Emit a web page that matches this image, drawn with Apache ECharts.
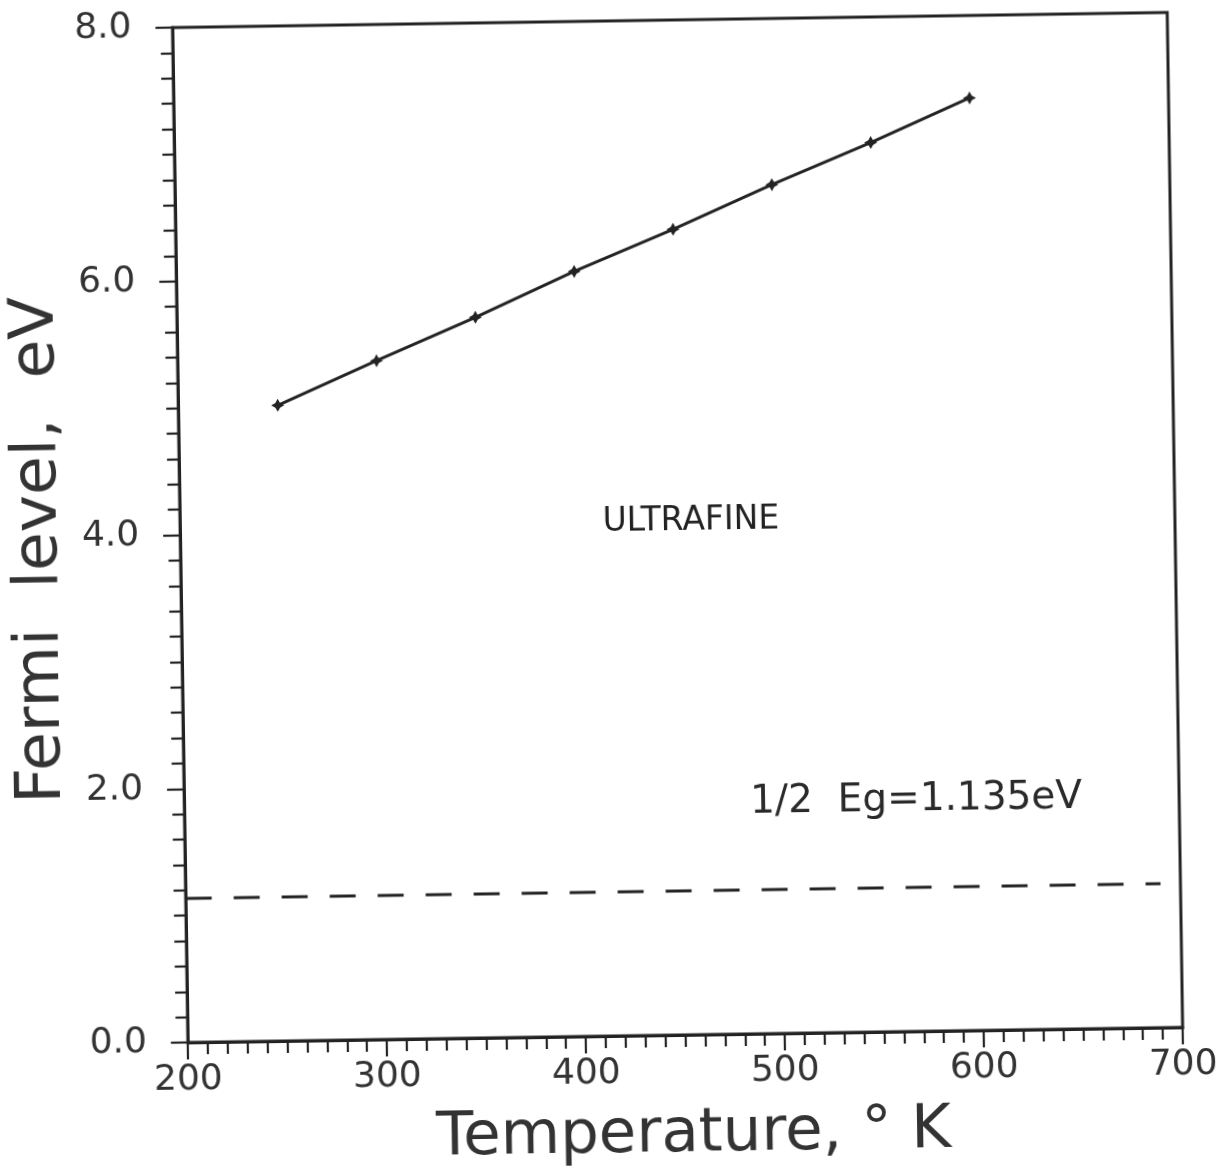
<!DOCTYPE html>
<html>
<head>
<meta charset="utf-8">
<script src="https://cdn.jsdelivr.net/npm/echarts@6/dist/echarts.min.js"></script>
<style>
  html, body { margin: 0; padding: 0; background: #ffffff; }
  #chart { width: 1224px; height: 1171px; transform: rotate(-0.87deg); transform-origin: 675px 529px; }
</style>
</head>
<body>
<div id="chart"></div>
<script>
// ---- data ----
const temperature = [250, 300, 350, 400, 450, 500, 550, 600];
const fermiLevel = [5.01, 5.35, 5.68, 6.03, 6.35, 6.69, 7.01, 7.35];
const halfEgX = [200, 690];
const halfEg = 1.135;
const xTickLabels = ['200', '300', '400', '500', '600', '700'];
const yTickLabels = ['0.0', '2.0', '4.0', '6.0', '8.0'];
const xTitle = 'Temperature, \u00b0 K';
const yTitle = 'Fermi  level,  eV';
const noteSample = 'ULTRAFINE';
const noteEg = '1/2  Eg=1.135eV';

const ink = '#232323';
const font = 'DejaVu Sans';

const chart = echarts.init(document.getElementById('chart'), null, { renderer: 'canvas' });
chart.setOption({
  animation: false,
  backgroundColor: '#ffffff',
  grid: { left: 176, top: 20, right: 49, bottom: 132, show: true, borderColor: ink, borderWidth: 3, backgroundColor: 'transparent' },
  xAxis: {
    type: 'value', min: 200, max: 700, interval: 100,
    axisLine: { show: true, lineStyle: { color: ink, width: 3 } },
    axisTick: { show: true, inside: false, length: 17, lineStyle: { color: ink, width: 2.2 } },
    minorTick: { show: true, splitNumber: 10, length: 12, lineStyle: { color: ink, width: 2.2 } },
    splitLine: { show: false },
    axisLabel: { margin: 20, fontFamily: font, fontSize: 36, color: '#333',
      formatter: v => xTickLabels[Math.round((v - 200) / 100)] },
    name: xTitle, nameLocation: 'middle', nameGap: 70,
    nameTextStyle: { fontFamily: font, fontSize: 61, color: '#333', padding: [0, 0, 0, 14] }
  },
  yAxis: {
    type: 'value', min: 0, max: 8, interval: 2,
    axisLine: { show: true, lineStyle: { color: ink, width: 3 } },
    axisTick: { show: true, inside: false, length: 17, lineStyle: { color: ink, width: 2.2 } },
    minorTick: { show: true, splitNumber: 10, length: 12, lineStyle: { color: ink, width: 2.2 } },
    splitLine: { show: false },
    axisLabel: { margin: 41, fontFamily: font, fontSize: 36, color: '#333',
      formatter: v => yTickLabels[Math.round(v / 2)] },
    name: yTitle, nameLocation: 'middle', nameGap: 98,
    nameTextStyle: { fontFamily: font, fontSize: 63, color: '#333', padding: [0, 26, 0, 0] }
  },
  series: [
    {
      name: 'Fermi level', type: 'line',
      data: temperature.map((t, i) => [t, fermiLevel[i]]),
      lineStyle: { color: ink, width: 3 },
      itemStyle: { color: ink },
      symbol: 'path://M0,-5 L1.8,-1.8 L5,0 L1.8,1.8 L0,5 L-1.8,1.8 L-5,0 L-1.8,-1.8 Z',
      symbolSize: 13, showSymbol: true
    },
    {
      name: '1/2 Eg', type: 'line',
      data: halfEgX.map(x => [x, halfEg]),
      lineStyle: { color: ink, width: 3, type: [26, 22] },
      symbol: 'none'
    }
  ],
  graphic: [
    { type: 'text', style: { x: 691, y: 521, text: noteSample, fontFamily: font, fontSize: 33, fill: '#222', textAlign: 'center', textVerticalAlign: 'middle' } },
    { type: 'text', style: { x: 912, y: 804, text: noteEg, fontFamily: font, fontSize: 39, fill: '#2a2a2a', textAlign: 'center', textVerticalAlign: 'middle' } }
  ]
});
</script>
</body>
</html>
